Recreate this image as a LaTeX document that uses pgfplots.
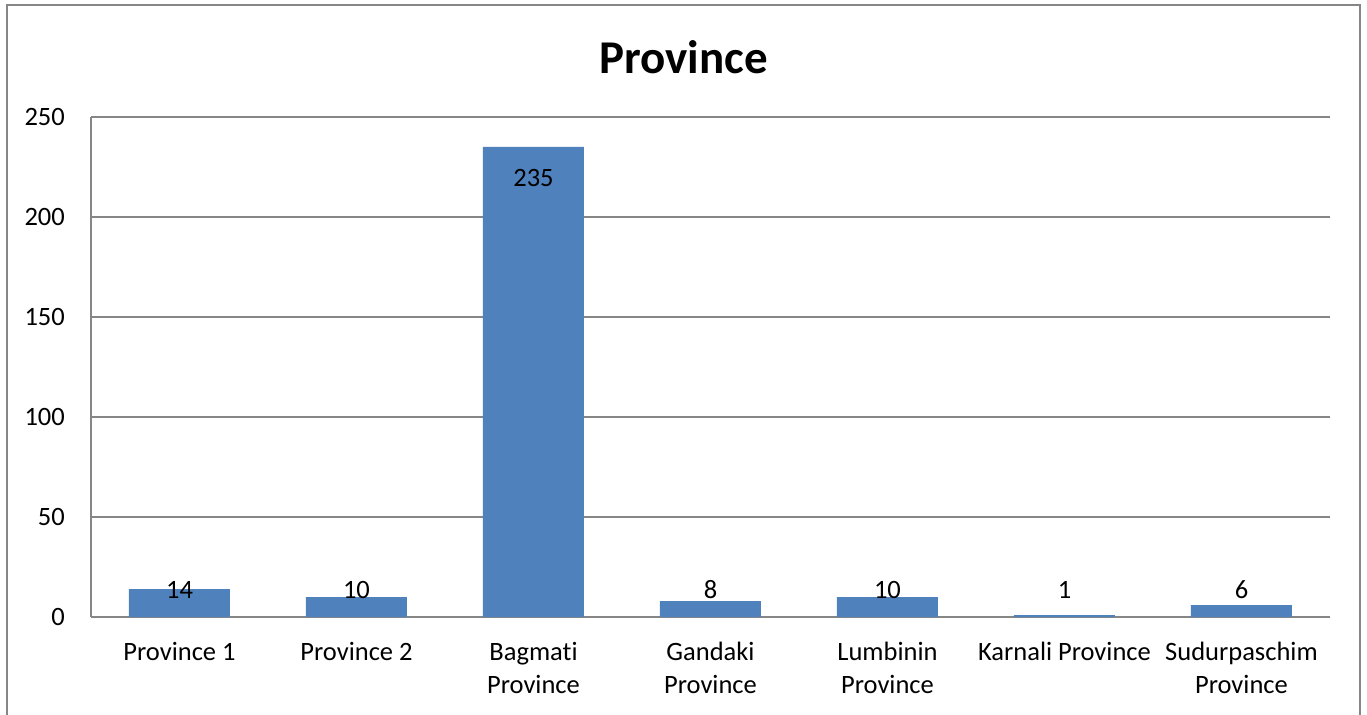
\documentclass[border=0pt]{standalone}
\usepackage{fontspec}
\setmainfont{Carlito}[RawFeature={-liga}]
\usepackage{pgfplots}
\pgfplotsset{compat=1.18}
\definecolor{barblue}{RGB}{79,129,189}
\definecolor{gridgray}{RGB}{134,134,134}
\begin{document}
\begin{tikzpicture}[x=1bp,y=1bp]
\begin{axis}[
  at={(0,0)}, anchor=south west,
  scale only axis, width=1239bp, height=500bp,
  xmin=-0.5, xmax=6.5, ymin=0, ymax=250,
  ytick={0,50,100,150,200,250},
  xtick={0,1,2,3,4,5,6},
  xticklabels={Province 1, Province 2, Bagmati\\Province, Gandaki\\Province, Lumbinin\\Province, Karnali Province, Sudurpaschim\\Province},
  /pgf/number format/assume math mode=true,
  axis x line*=bottom, axis y line*=left,
  axis line style={gridgray, line width=1.3bp, -},
  ymajorgrids, grid style={gridgray, line width=1.3bp},
  major tick length=0pt,
  tick style={draw=none},
  yticklabel style={font=\fontsize{26.5bp}{31bp}\selectfont, anchor=east, inner sep=0pt, xshift=-26bp},
  xticklabel style={font=\fontsize{26.5bp}{33bp}\selectfont, anchor=north, inner sep=0pt, yshift=-25bp, align=center},
  clip=false,
]
\addplot[ybar, bar width=101bp, fill=barblue, draw=none] coordinates {
  (0,14) (1,10) (2,235) (3,8) (4,10) (5,1) (6,6)
};
\addplot[draw=none, mark=none, nodes near coords, point meta=explicit symbolic,
  nodes near coords style={anchor=center, inner sep=0pt, font=\fontsize{26.5bp}{31bp}\selectfont, text=black}] coordinates {
  (0,13.5) [14] (1,13.5) [10] (2,219.5) [235] (3,13.5) [8] (4,13.5) [10] (5,13.5) [1] (6,13.5) [6]
};
\end{axis}
\node[font=\fontsize{47bp}{56bp}\selectfont\bfseries] at (592.5bp,560bp) {Province};
\draw[gridgray, line width=2bp] (-84bp,-120bp) -- (-84bp,612bp) -- (1269bp,612bp) -- (1269bp,-120bp);
\pgfresetboundingbox
\path[use as bounding box] (-91bp,-98bp) rectangle (1276bp,617bp);
\end{tikzpicture}
\end{document}
